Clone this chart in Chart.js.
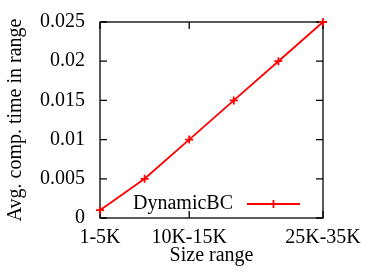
<!DOCTYPE html>
<html><head><meta charset="utf-8">
<script src="https://cdn.jsdelivr.net/npm/chart.js@4/dist/chart.umd.min.js"></script>
<style>html,body{margin:0;padding:0;background:#fff;}#wrap{width:374px;height:272px;position:relative;}
#probe{position:absolute;left:-9999px;top:0;font:20px "Liberation Serif";}</style>
</head><body><div id="probe">DynamicBC 0.025 Size range</div><div id="wrap"><canvas id="c" width="374" height="272"></canvas></div>
<script>
const categories = ['1-5K','5K-10K','10K-15K','15K-20K','20K-25K','25K-35K'];
const shownTickLabels = ['1-5K','10K-15K','25K-35K'];
const dynamicBC = [0.001, 0.005, 0.01, 0.015, 0.02, 0.025];
const yTicks = [0, 0.005, 0.01, 0.015, 0.02, 0.025];
const seriesName = 'DynamicBC';
const xTitle = 'Size range';
const yTitle = 'Avg. comp. time in range';

const FONT = "'Liberation Serif'";
const FS = 20;
const RED = '#ff0000';

const framePlugin = {
  id: 'frame',
  beforeDatasetsDraw(chart) {
    const {ctx, chartArea: a, scales} = chart;
    ctx.save();
    ctx.strokeStyle = '#000';
    ctx.lineWidth = 1.3;
    ctx.strokeRect(a.left, a.top, a.right - a.left, a.bottom - a.top);
    const tl = 7;
    ctx.beginPath();
    yTicks.forEach(v => {
      const y = scales.y.getPixelForValue(v);
      ctx.moveTo(a.left, y); ctx.lineTo(a.left + tl, y);
      ctx.moveTo(a.right, y); ctx.lineTo(a.right - tl, y);
    });
    categories.forEach((c, i) => {
      if (!shownTickLabels.includes(c)) return;
      const x = scales.x.getPixelForValue(i);
      ctx.moveTo(x, a.bottom); ctx.lineTo(x, a.bottom - tl);
      ctx.moveTo(x, a.top); ctx.lineTo(x, a.top + tl);
    });
    ctx.stroke();
    ctx.restore();
  },
  afterDraw(chart) {
    const {ctx, chartArea: a} = chart;
    const ds = chart.data.datasets[0];
    ctx.save();
    const y = a.bottom - 14;
    ctx.font = FS + 'px ' + FONT;
    ctx.fillStyle = '#000';
    ctx.textAlign = 'right';
    ctx.textBaseline = 'middle';
    ctx.fillText(ds.label, a.right - 90, y);
    const x0 = a.right - 76, x1 = a.right - 23, xm = (x0 + x1) / 2;
    ctx.strokeStyle = ds.borderColor;
    ctx.lineWidth = ds.borderWidth;
    ctx.beginPath();
    ctx.moveTo(x0, y); ctx.lineTo(x1, y);
    ctx.moveTo(xm - ds.pointRadius, y); ctx.lineTo(xm + ds.pointRadius, y);
    ctx.moveTo(xm, y - ds.pointRadius); ctx.lineTo(xm, y + ds.pointRadius);
    ctx.stroke();
    ctx.restore();
  }
};

function build() {
  new Chart(document.getElementById('c'), {
    type: 'line',
    data: {
      labels: categories,
      datasets: [{
        label: seriesName,
        data: dynamicBC,
        borderColor: RED,
        backgroundColor: RED,
        borderWidth: 1.8,
        pointStyle: 'cross',
        pointRadius: 4,
        pointBorderWidth: 1.8,
        pointBorderColor: RED,
        tension: 0,
        clip: false
      }]
    },
    options: {
      responsive: false,
      devicePixelRatio: 1,
      animation: false,
      layout: { padding: { left: 0, right: 51, top: 22, bottom: 0 } },
      plugins: { legend: { display: false }, tooltip: { enabled: false } },
      scales: {
        x: {
          type: 'category',
          offset: false,
          grid: { display: false, drawTicks: false },
          border: { display: false },
          ticks: {
            autoSkip: false, maxRotation: 0, padding: 8, color: '#000',
            font: { family: FONT, size: FS },
            callback: function(v, i) { const l = categories[i]; return shownTickLabels.includes(l) ? l : ''; }
          },
          title: { display: true, text: xTitle, color: '#000', font: { family: FONT, size: FS }, padding: { top: 0, bottom: 4 } },
          afterFit(s) { s.height = 54; }
        },
        y: {
          min: 0, max: 0.025,
          grid: { display: false, drawTicks: false },
          border: { display: false },
          afterBuildTicks(s) { s.ticks = yTicks.map(v => ({ value: v })); },
          ticks: {
            padding: 15, color: '#000',
            font: { family: FONT, size: FS },
            callback: v => String(v)
          },
          title: { display: true, text: yTitle, color: '#000', font: { family: FONT, size: FS }, padding: { top: 4, bottom: 0 } },
          afterFit(s) { s.width = 100; s.paddingTop = 0; s.paddingBottom = 0; }
        }
      }
    },
    plugins: [framePlugin]
  });
}
if (document.fonts && document.fonts.load) {
  document.fonts.load("20px 'Liberation Serif'").then(build, build);
} else { build(); }
</script></body></html>
